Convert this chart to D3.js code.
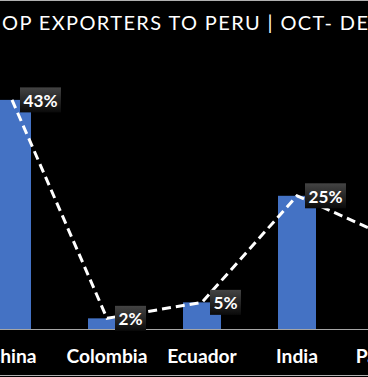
<!DOCTYPE html>
<html>
<head>
<meta charset="utf-8">
<script src="https://cdn.jsdelivr.net/npm/d3@7"></script>
<style>
  html, body { margin: 0; padding: 0; background: #000; }
  svg { display: block; }
</style>
</head>
<body>
<svg id="chart"></svg>
<script>
// data
const categories = ["China", "Colombia", "Ecuador", "India", "Pakistan"];
const shares = [43, 2, 5, 25, 17];
// only this part of the title is inside the visible window
const titleText = "OP EXPORTERS TO PERU | OCT- DE";

const width = 368, height = 377;
const font = "Lato, sans-serif";

const svg = d3.select("#chart")
  .attr("width", width)
  .attr("height", height);

function measure(str, size, weight) {
  const t = svg.append("text")
    .style("font-family", font)
    .style("font-weight", weight || "normal")
    .style("font-size", size + "px")
    .text(str);
  const w = t.node().getComputedTextLength();
  t.remove();
  return w;
}

svg.append("rect")
  .attr("width", width).attr("height", height)
  .attr("fill", "#000");

// chart area border (left/right are outside the visible window)
svg.append("rect")
  .attr("x", -20).attr("y", 0.5)
  .attr("width", width + 40).attr("height", 375)
  .attr("fill", "none")
  .attr("stroke", "#b0b0b0")
  .attr("stroke-width", 1);

const defs = svg.append("defs");
const grad = defs.append("linearGradient")
  .attr("id", "lblGrad")
  .attr("x1", 0).attr("y1", 0).attr("x2", 0).attr("y2", 1);
grad.append("stop").attr("offset", "0%").attr("stop-color", "#444");
grad.append("stop").attr("offset", "100%").attr("stop-color", "#0a0a0a");

// title
svg.append("text")
  .attr("x", 2)
  .attr("y", 30)
  .attr("textLength", 366)
  .attr("lengthAdjust", "spacing")
  .attr("fill", "#fff")
  .style("font-family", font)
  .style("font-size", "20px")
  .text(titleText);

const data = categories.map((c, i) => ({cat: c, share: shares[i]}));

const x = d3.scaleBand()
  .domain(categories)
  .range([-35.5, 439.5])
  .paddingInner(0.6)
  .paddingOuter(0.3);

const y = d3.scaleLinear()
  .domain([0, 50])
  .range([329, 62.6]);

const cx = d => x(d.cat) + x.bandwidth() / 2;

// bars
svg.append("g")
  .selectAll("rect")
  .data(data)
  .join("rect")
    .attr("x", d => x(d.cat))
    .attr("y", d => y(d.share))
    .attr("width", x.bandwidth())
    .attr("height", d => y(0) - y(d.share))
    .attr("fill", "#4472c4");

// x axis, "Colombia" is about 81px wide
const catFs = 20 * 81 / measure("Colombia", 20, "bold");
const xg = svg.append("g")
  .attr("transform", "translate(0,329)")
  .call(d3.axisBottom(x).tickSize(0).tickPadding(0));
xg.select(".domain")
  .attr("d", "M-20,0.5H400")
  .attr("stroke", "#a6a6a6");
xg.selectAll("text")
  .attr("y", 34)
  .attr("dy", null)
  .attr("fill", "#fff")
  .style("font-family", font)
  .style("font-weight", "bold")
  .style("font-size", catFs + "px");

// dashed line
const line = d3.line()
  .x(d => cx(d))
  .y(d => y(d.share));

svg.append("path")
  .datum(data)
  .attr("d", line)
  .attr("fill", "none")
  .attr("stroke", "#fff")
  .attr("stroke-width", 3)
  .attr("stroke-dasharray", "9,5");

// labels, "25%" is about 33px wide; skip the one that falls outside the window
const lblFs = 20 * 34 / measure("25%", 20, "bold");
const lbl = svg.append("g")
  .selectAll("g")
  .data(data.filter(d => cx(d) + 8 < width))
  .join("g")
    .attr("transform", d => `translate(${cx(d) + 8},${y(d.share)})`);

lbl.append("text")
  .attr("x", 3.5)
  .attr("y", 7)
  .attr("fill", "#fff")
  .style("font-family", font)
  .style("font-weight", "bold")
  .style("font-size", lblFs + "px")
  .text(d => d.share + "%");

lbl.insert("rect", "text")
  .attr("x", 0)
  .attr("y", -12.5)
  .attr("height", 25)
  .attr("width", function() {
    return this.parentNode.querySelector("text").getComputedTextLength() + 7;
  })
  .attr("fill", "url(#lblGrad)");
</script>
</body>
</html>
